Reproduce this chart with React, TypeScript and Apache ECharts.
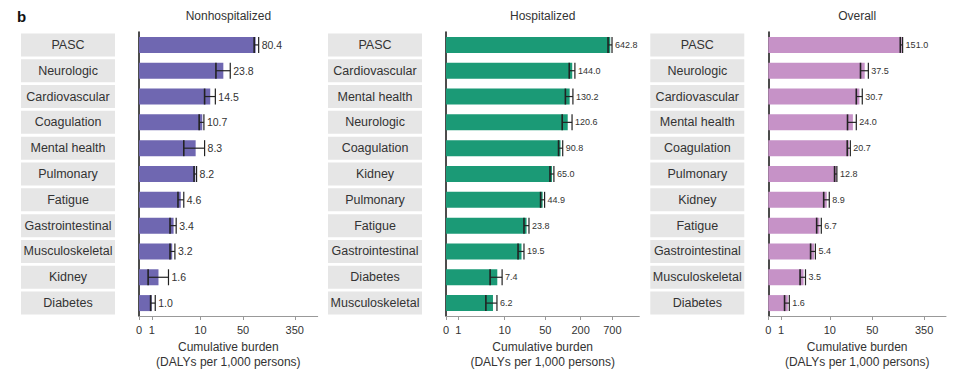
import React, { useEffect, useRef } from "react";
import * as echarts from "echarts";

// ---------- data ----------
const CATS_NON = ["PASC", "Neurologic", "Cardiovascular", "Coagulation", "Mental health", "Pulmonary", "Fatigue", "Gastrointestinal", "Musculoskeletal", "Kidney", "Diabetes"];
const VAL_NON = [80.4, 23.8, 14.5, 10.7, 8.3, 8.2, 4.6, 3.4, 3.2, 1.6, 1.0];
const LO_NON = [76, 18.0, 11.7, 9.5, 5.2, 7.8, 4.1, 2.9, 2.9, 0.7, 0.9];
const HI_NON = [90, 30.9, 17.6, 11.4, 11.7, 8.6, 5.2, 3.8, 3.6, 2.7, 1.3];
const TICKS_NON = [0, 1, 10, 50, 350];

const CATS_HOSP = ["PASC", "Cardiovascular", "Mental health", "Neurologic", "Coagulation", "Kidney", "Pulmonary", "Fatigue", "Gastrointestinal", "Diabetes", "Musculoskeletal"];
const VAL_HOSP = [642.8, 144.0, 130.2, 120.6, 90.8, 65.0, 44.9, 23.8, 19.5, 7.4, 6.2];
const LO_HOSP = [590, 128, 110, 97, 84, 60, 41.4, 21.5, 17, 5.5, 4.6];
const HI_HOSP = [690, 160, 148, 143, 99, 70, 48.5, 26.2, 21.5, 9.0, 7.3];
const TICKS_HOSP = [0, 1, 10, 50, 200, 700];

const CATS_ALL = ["PASC", "Neurologic", "Cardiovascular", "Mental health", "Coagulation", "Pulmonary", "Kidney", "Fatigue", "Gastrointestinal", "Musculoskeletal", "Diabetes"];
const VAL_ALL = [151.0, 37.5, 30.7, 24.0, 20.7, 12.8, 8.9, 6.7, 5.4, 3.5, 1.6];
const LO_ALL = [143, 32, 27.3, 19.6, 19.4, 12.0, 7.9, 6.0, 4.7, 3.0, 1.3];
const HI_ALL = [156, 43, 34.2, 27.3, 21.8, 13.1, 9.8, 7.2, 5.7, 3.8, 1.75];
const TICKS_ALL = [0, 1, 10, 50, 350];

const AXIS_MAX = [829, 2020, 797];
const TITLES = ["Nonhospitalized", "Hospitalized", "Overall"];

// pseudo-log transform (asinh(x/2))
const t = (v: number) => Math.asinh(v / 2);

const FONT = "Liberation Sans, Arial, sans-serif";

function buildPanel(
  i: number,
  cats: string[],
  vals: number[],
  lo: number[],
  hi: number[],
  ticks: number[],
  max: number,
  color: string,
  labelSize: number
) {
  const tickVals = ticks.map(t);
  const xAxis = {
    type: "value",
    gridIndex: i,
    min: 0,
    max: t(max),
    splitLine: { show: false },
    axisLine: { show: true, onZero: false, lineStyle: { color: "#999", width: 1 } },
    axisTick: { show: true, customValues: tickVals, length: 4, lineStyle: { color: "#999" } },
    axisLabel: {
      customValues: tickVals,
      hideOverlap: false,
      formatter: (v: number) => {
        const k = ticks.find((q) => Math.abs(t(q) - v) < 1e-6);
        return k === undefined ? "" : String(k);
      },
      fontSize: 11,
      color: "#333",
      margin: 8,
      fontFamily: FONT,
    },
    name: "Cumulative burden\n(DALYs per 1,000 persons)",
    nameLocation: "middle",
    nameGap: 23,
    nameTextStyle: { fontSize: 12, lineHeight: 14.5, color: "#333", fontFamily: FONT },
  };
  const yAxis = {
    type: "category",
    gridIndex: i,
    data: cats,
    inverse: true,
    axisLine: { show: true, lineStyle: { color: "#111", width: 1.5 } },
    axisTick: { show: false },
    axisLabel: {
      margin: 24,
      formatter: (v: string) => `{b|${v}}`,
      rich: {
        b: {
          width: 94,
          height: 23,
          lineHeight: 23,
          align: "center",
          backgroundColor: "#e6e6e6",
          fontSize: 12.5,
          color: "#333",
          fontFamily: FONT,
        },
      },
    },
  };
  const series = [
    {
      type: "bar",
      xAxisIndex: i,
      yAxisIndex: i,
      data: vals.map(t),
      barWidth: 16,
      itemStyle: { color },
      silent: true,
    },
    {
      type: "custom",
      xAxisIndex: i,
      yAxisIndex: i,
      z: 5,
      silent: true,
      data: vals.map((_, k) => [t(lo[k]), t(hi[k]), k]),
      encode: { x: [0, 1], y: 2 },
      renderItem: (params: any, api: any) => {
        const idx = params.dataIndex;
        const p1 = api.coord([api.value(0), idx]);
        const p2 = api.coord([api.value(1), idx]);
        const y = p1[1];
        const h = 16;
        return {
          type: "group",
          children: [
            { type: "line", shape: { x1: p1[0], y1: y, x2: p2[0], y2: y }, style: { stroke: "#222", lineWidth: 1.2 } },
            { type: "line", shape: { x1: p1[0], y1: y - h / 2, x2: p1[0], y2: y + h / 2 }, style: { stroke: "#222", lineWidth: 1.6 } },
            { type: "line", shape: { x1: p2[0], y1: y - h / 2, x2: p2[0], y2: y + h / 2 }, style: { stroke: "#222", lineWidth: 1.2 } },
            {
              type: "text",
              x: p2[0] + 3,
              y,
              style: {
                text: vals[idx].toFixed(1),
                fontSize: labelSize,
                fill: "#333",
                align: "left",
                verticalAlign: "middle",
                fontFamily: FONT,
              },
            },
          ],
        };
      },
    },
  ];
  return { xAxis, yAxis, series };
}

const GRIDS = [
  { left: 139, width: 178.7, top: 32, height: 284, outerBoundsMode: "none", containLabel: false },
  { left: 446, width: 193.3, top: 32, height: 284, outerBoundsMode: "none", containLabel: false },
  { left: 768.3, width: 177.7, top: 32, height: 284, outerBoundsMode: "none", containLabel: false },
];

export default function App() {
  const ref = useRef<HTMLDivElement>(null);
  useEffect(() => {
    if (!ref.current) return;
    const chart = echarts.init(ref.current, undefined, { renderer: "svg" });
    const panels = [
      buildPanel(0, CATS_NON, VAL_NON, LO_NON, HI_NON, TICKS_NON, AXIS_MAX[0], "#6f67b1", 10.5),
      buildPanel(1, CATS_HOSP, VAL_HOSP, LO_HOSP, HI_HOSP, TICKS_HOSP, AXIS_MAX[1], "#1b9a76", 9),
      buildPanel(2, CATS_ALL, VAL_ALL, LO_ALL, HI_ALL, TICKS_ALL, AXIS_MAX[2], "#c692c7", 9),
    ];
    const graphic: any[] = [
      { type: "text", x: 17, y: 16, style: { text: "b", fontSize: 15, fontWeight: "bold", fill: "#111", align: "left", verticalAlign: "middle", fontFamily: FONT } },
    ];
    TITLES.forEach((title, k) => {
      const g = GRIDS[k];
      graphic.push({
        type: "text",
        x: g.left + g.width / 2,
        y: 16,
        style: { text: title, fontSize: 12, fill: "#333", align: "center", verticalAlign: "middle", fontFamily: FONT },
      });
    });
    chart.setOption({
      animation: false,
      backgroundColor: "#ffffff",
      textStyle: { fontFamily: FONT },
      grid: GRIDS,
      xAxis: panels.map((p) => p.xAxis),
      yAxis: panels.map((p) => p.yAxis),
      series: panels.flatMap((p) => p.series),
      graphic,
    } as any);
    return () => chart.dispose();
  }, []);
  return (
    <div
      ref={ref}
      style={{ position: "fixed", left: 0, top: 0, width: 960, height: 371, background: "#fff" }}
    />
  );
}
